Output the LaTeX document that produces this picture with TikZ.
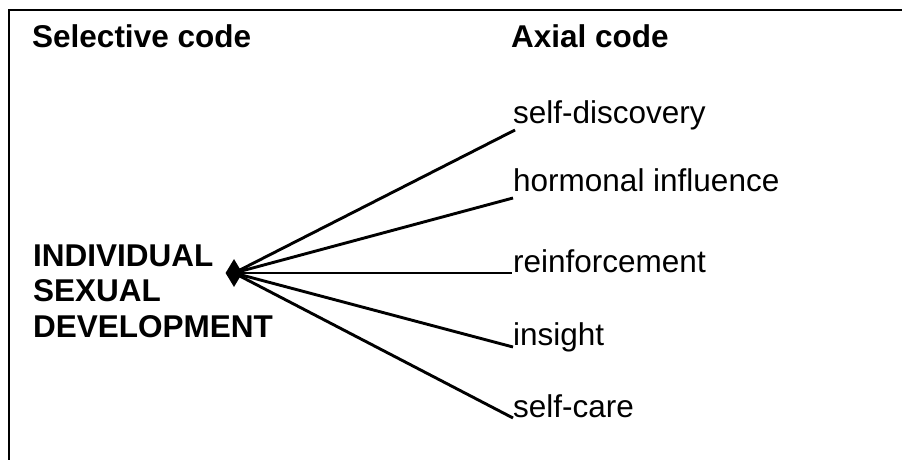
\documentclass[tikz,border=0pt]{standalone}
\usepackage{fontspec}
\setmainfont{Liberation Sans}
\usetikzlibrary{shapes.geometric}
\begin{document}
\begin{tikzpicture}[x=1pt,y=-1pt,
  head/.style={anchor=base west,inner sep=0pt,font=\fontsize{31.5}{35.5}\selectfont\bfseries},
  code/.style={anchor=base west,inner sep=0pt,font=\fontsize{31.5}{35}\selectfont},
  link/.style={line width=2.9pt},
  hub/.style={diamond,fill=black,inner sep=0pt,minimum width=17pt,minimum height=28pt}]
  \useasboundingbox (0,0) rectangle (902,460);
  % frame: left and top rules only
  \draw[line width=2.2pt] (9,460) -- (9,10) -- (902,10);
  % column headings
  \node[head] (hsel) at (32,48) {Selective code};
  \node[head] (hax) at (511,48) {Axial code};
  % selective code (baseline of the last line)
  \node[head,align=left] (sel) at (33,337) {INDIVIDUAL\\SEXUAL\\DEVELOPMENT};
  % axial codes
  \node[code] (a1) at (513,123) {self-discovery};
  \node[code] (a2) at (513,191) {hormonal influence};
  \node[code] (a3) at (513,272) {reinforcement};
  \node[code] (a4) at (513,345) {insight};
  \node[code] (a5) at (513,417) {self-care};
  \coordinate (e1) at (515,130);
  \coordinate (e2) at (513,198);
  \coordinate (e3) at (512,273);
  \coordinate (e4) at (513,347);
  \coordinate (e5) at (513,418);
  % hub and spokes
  \node[hub] (h) at (234,273) {};
  \foreach \i in {1,...,5} \draw[link] (h.center) -- (e\i);
\end{tikzpicture}
\end{document}
